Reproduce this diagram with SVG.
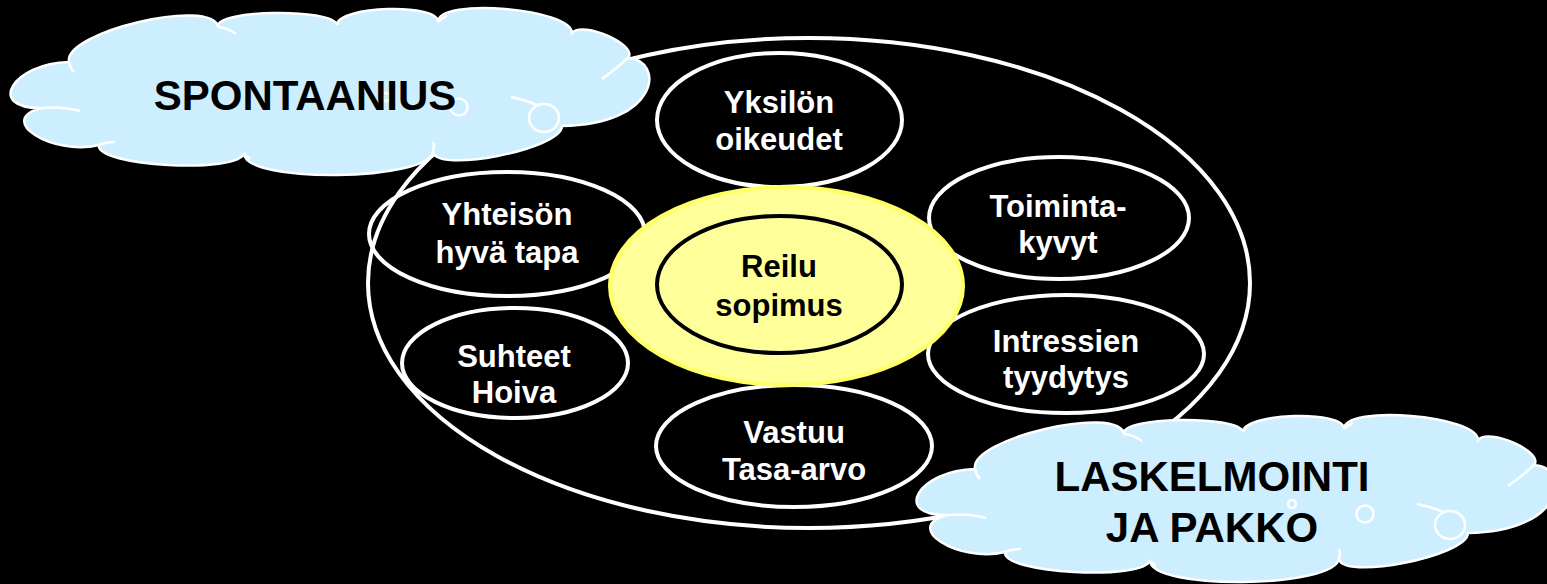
<svg xmlns="http://www.w3.org/2000/svg" width="1547" height="584" viewBox="0 0 1547 584">
<style>
.ring{fill:none;stroke:#ffffff;stroke-width:4}
.lbl{font-family:"Liberation Sans",Arial,sans-serif;font-weight:bold;font-size:31px;fill:#ffffff;text-anchor:middle}
.cloudtxt{font-family:"Liberation Sans",Arial,sans-serif;font-weight:bold;font-size:42px;fill:#000000;text-anchor:middle}
.cloud{fill:#cceeff;stroke:#ffffff;stroke-width:2.5}
.cloudline{fill:none;stroke:#ffffff;stroke-width:2.5}
</style>
<defs>
<g id="cloudShape">
<path class="cloud" d="M69,62 C63,32 212,-3 218,27 C213.3,9.7 332.3,7.7 337,25 C337.7,5.7 438.7,2.7 438,22 C438,-2.7 572,8.3 572,33 C582.7,20.3 638.7,45.3 628,58 C665,60 660,125 562,126 C562,149.3 433,174.3 433,151 C431,181.7 242,183.7 244,153 C239.3,174.3 94.3,166.3 99,145 C51.7,156.3 -5.3,119.3 42,108 C-14.7,109.3 12.3,63.3 69,62 Z"/>
<path class="cloudline" d="M42,108 Q62,106 80,111 M69,62 Q70,68 74,72 M218,27 Q228,28 236,34 M337,25 Q338,21 341,19 M438,22 Q441,19 447,16 M628,58 Q615,70 602,79 M511,97 Q535,102 551,112 M433,151 Q435,146 433,142 M244,153 Q246,156 250,159 M99,145 Q106,142 115,142"/>
<circle class="cloud" cx="386" cy="97" r="4"/>
<circle class="cloud" cx="459" cy="107" r="8.5"/>
<ellipse class="cloud" cx="544" cy="118" rx="15" ry="14"/>
</g>
</defs>
<rect x="0" y="0" width="1547" height="584" fill="#000000"/>
<g id="outer-ring">
<ellipse class="ring" cx="809" cy="283" rx="441" ry="245"/>
</g>
<g id="node-yksilon">
<ellipse class="ring" cx="779.5" cy="120" rx="122.5" ry="67"/>
<text class="lbl" x="779" y="113">Yksilön</text>
<text class="lbl" x="779" y="150">oikeudet</text>
</g>
<g id="node-yhteison">
<ellipse class="ring" cx="507" cy="234" rx="138" ry="62"/>
<text class="lbl" x="507" y="225">Yhteisön</text>
<text class="lbl" x="507" y="263">hyvä tapa</text>
</g>
<g id="node-suhteet">
<ellipse class="ring" cx="515" cy="363" rx="113" ry="55"/>
<text class="lbl" x="514" y="367">Suhteet</text>
<text class="lbl" x="514" y="403">Hoiva</text>
</g>
<g id="node-vastuu">
<ellipse class="ring" cx="794" cy="446" rx="138" ry="61"/>
<text class="lbl" x="794" y="443">Vastuu</text>
<text class="lbl" x="794" y="480">Tasa-arvo</text>
</g>
<g id="node-toiminta">
<ellipse class="ring" cx="1059" cy="218" rx="130" ry="61"/>
<text class="lbl" x="1058" y="217">Toiminta-</text>
<text class="lbl" x="1058" y="253">kyvyt</text>
</g>
<g id="node-intressien">
<ellipse class="ring" cx="1066" cy="354" rx="138" ry="59"/>
<text class="lbl" x="1066" y="352">Intressien</text>
<text class="lbl" x="1066" y="388">tyydytys</text>
</g>
<g id="node-reilu">
<ellipse cx="786.5" cy="286" rx="176.5" ry="99" fill="#ffff99" stroke="#ffff66" stroke-width="4"/>
<ellipse cx="779.5" cy="284.5" rx="122.5" ry="68.5" fill="none" stroke="#000000" stroke-width="4"/>
<text class="lbl" x="779" y="277" style="fill:#000000">Reilu</text>
<text class="lbl" x="779" y="316" style="fill:#000000">sopimus</text>
</g>
<g id="connectors"/>
<g id="cloud-spontaanius">
<use href="#cloudShape"/>
<text class="cloudtxt" x="305" y="110">SPONTAANIUS</text>
</g>
<g id="cloud-laskelmointi">
<use href="#cloudShape" transform="translate(906,407)"/>
<text class="cloudtxt" x="1212" y="491">LASKELMOINTI</text>
<text class="cloudtxt" x="1212" y="542">JA PAKKO</text>
</g>
</svg>
